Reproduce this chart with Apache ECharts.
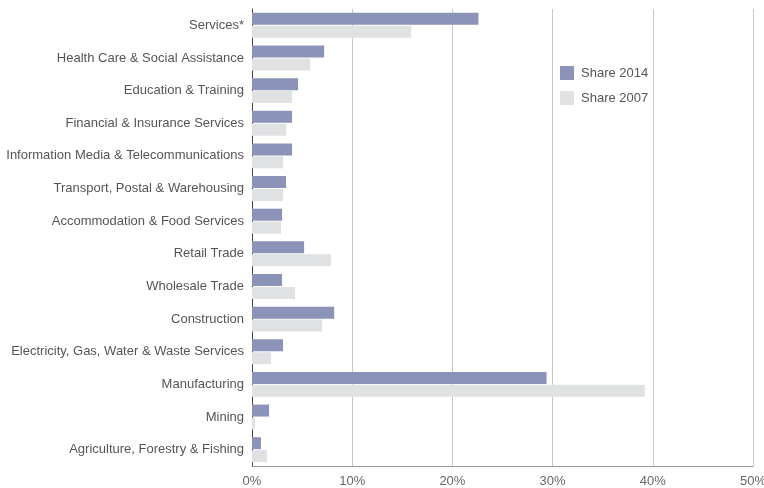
<!DOCTYPE html>
<html>
<head>
<meta charset="utf-8">
<script src="https://cdn.jsdelivr.net/npm/echarts@6/dist/echarts.min.js"></script>
<style>
  html, body { margin: 0; padding: 0; background: #fff; }
  #chart { width: 764px; height: 488px; }
</style>
</head>
<body>
<div id="chart"></div>
<script>
const categories = [
  'Services*',
  'Health Care & Social Assistance',
  'Education & Training',
  'Financial & Insurance Services',
  'Information Media & Telecommunications',
  'Transport, Postal & Warehousing',
  'Accommodation & Food Services',
  'Retail Trade',
  'Wholesale Trade',
  'Construction',
  'Electricity, Gas, Water & Waste Services',
  'Manufacturing',
  'Mining',
  'Agriculture, Forestry & Fishing'
]
const share2014 = [22.6, 7.2, 4.6, 4.0, 4.0, 3.4, 3.0, 5.2, 3.0, 8.2, 3.1, 29.4, 1.7, 0.9]
const share2007 = [15.9, 5.8, 4.0, 3.4, 3.1, 3.1, 2.9, 7.9, 4.3, 7.0, 1.9, 39.2, 0.3, 1.5]
const xTicks = [0, 10, 20, 30, 40, 50]

const font = '"Liberation Sans", Arial, sans-serif'
const chart = echarts.init(document.getElementById('chart'))

chart.setOption({
  animation: false,
  textStyle: { fontFamily: font },
  grid: { left: 252, right: 11, top: 9, bottom: 22, containLabel: false, outerBoundsMode: 'none' },
  legend: {
    orient: 'vertical',
    left: 555,
    top: 61,
    itemWidth: 14,
    itemHeight: 14,
    itemGap: 11,
    icon: 'rect',
    textStyle: { fontSize: 13, color: '#555', fontFamily: font, padding: [0, 0, 0, 2] },
    data: ['Share 2014', 'Share 2007']
  },
  xAxis: {
    type: 'value',
    min: xTicks[0],
    max: xTicks[xTicks.length - 1],
    interval: 10,
    axisLine: { show: true, lineStyle: { color: '#999', width: 1 } },
    axisTick: { show: false },
    axisLabel: { formatter: '{value}%', color: '#666', fontSize: 13, margin: 9, fontFamily: font },
    splitLine: { show: true, lineStyle: { color: '#c8c8c8', width: 1 } }
  },
  yAxis: {
    type: 'category',
    data: categories,
    inverse: true,
    axisLine: { show: true, lineStyle: { color: '#444', width: 1 } },
    axisTick: { show: false },
    axisLabel: { color: '#555', fontSize: 13, margin: 8, fontFamily: font },
    splitLine: { show: false }
  },
  series: [
    {
      name: 'Share 2014',
      type: 'bar',
      data: share2014,
      barWidth: 12,
      barGap: '8%',
      itemStyle: { color: '#8b93b8' }
    },
    {
      name: 'Share 2007',
      type: 'bar',
      data: share2007,
      barWidth: 12,
      barGap: '8%',
      itemStyle: { color: '#e0e1e3' }
    }
  ]
})
</script>
</body>
</html>
